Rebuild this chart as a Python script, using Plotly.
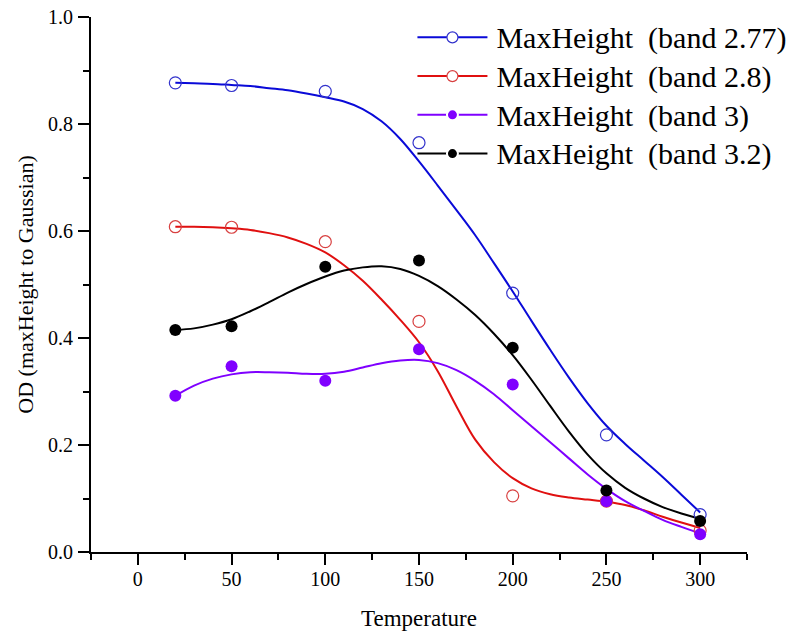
import plotly.graph_objects as go

# ---- data ----
temps = [20, 50, 100, 150, 200, 250, 300]
od_277 = [0.877, 0.872, 0.861, 0.765, 0.484, 0.219, 0.070]
od_28 = [0.608, 0.607, 0.580, 0.431, 0.105, 0.095, 0.040]
od_3 = [0.292, 0.347, 0.320, 0.379, 0.313, 0.095, 0.033]
od_32 = [0.415, 0.422, 0.533, 0.545, 0.382, 0.115, 0.058]

# fitted curves
fit_t = [20, 30, 40, 50, 60, 70, 80, 90, 100, 110, 120, 130, 140, 150, 160,
         170, 180, 190, 200, 210, 220, 230, 240, 250, 260, 270, 280, 290, 300]
fit_277 = [0.877, 0.876, 0.875, 0.873, 0.871, 0.867, 0.863, 0.857, 0.850, 0.842, 0.828, 0.805, 0.772, 0.730, 0.685,
           0.639, 0.592, 0.540, 0.487, 0.432, 0.378, 0.326, 0.278, 0.236, 0.202, 0.171, 0.140, 0.107, 0.074]
fit_28 = [0.608, 0.608, 0.607, 0.605, 0.602, 0.596, 0.588, 0.576, 0.560, 0.536, 0.507, 0.472, 0.434, 0.392, 0.338,
          0.272, 0.210, 0.168, 0.138, 0.119, 0.108, 0.102, 0.098, 0.094, 0.088, 0.078, 0.066, 0.055, 0.045]
fit_3 = [0.292, 0.311, 0.324, 0.332, 0.336, 0.336, 0.335, 0.333, 0.333, 0.337, 0.345, 0.353, 0.358, 0.359, 0.353,
         0.340, 0.320, 0.295, 0.265, 0.235, 0.205, 0.175, 0.145, 0.118, 0.095, 0.077, 0.060, 0.047, 0.035]
fit_32 = [0.415, 0.418, 0.425, 0.435, 0.450, 0.467, 0.485, 0.501, 0.515, 0.526, 0.532, 0.534, 0.529, 0.516, 0.497,
          0.472, 0.443, 0.408, 0.368, 0.322, 0.273, 0.225, 0.182, 0.147, 0.120, 0.100, 0.084, 0.072, 0.062]

labels = ["MaxHeight\u00a0\u00a0(band 2.77)", "MaxHeight\u00a0\u00a0(band 2.8)",
          "MaxHeight\u00a0\u00a0(band 3)", "MaxHeight\u00a0\u00a0(band 3.2)"]
x_ticks = [0, 50, 100, 150, 200, 250, 300]
y_ticks = [0.0, 0.2, 0.4, 0.6, 0.8, 1.0]

series = [
    dict(name=labels[0], pts=od_277, fy=fit_277, line="#0a0ad8", mk="circle-open", mc="#3333cc"),
    dict(name=labels[1], pts=od_28, fy=fit_28, line="#e01010", mk="circle-open", mc="#d84040"),
    dict(name=labels[2], pts=od_3, fy=fit_3, line="#7f00ff", mk="circle", mc="#8000ff"),
    dict(name=labels[3], pts=od_32, fy=fit_32, line="#000000", mk="circle", mc="#000000"),
]

fig = go.Figure()
for s in series:
    fig.add_trace(go.Scatter(x=fit_t, y=s["fy"], mode="lines", line=dict(color=s["line"], width=2, shape="spline"),
                             showlegend=False, hoverinfo="skip"))
for s in series:
    if s["mk"] == "circle-open":
        marker = dict(symbol="circle-open", size=12, color=s["mc"], line=dict(width=1.2, color=s["mc"]))
    else:
        marker = dict(symbol="circle", size=12, color=s["mc"], line=dict(width=0))
    fig.add_trace(go.Scatter(x=temps, y=s["pts"], mode="markers", marker=marker, showlegend=False))
for s in series:
    if s["mk"] == "circle-open":
        lm = dict(symbol="circle", size=11, color="white", line=dict(width=1.2, color=s["mc"]))
    else:
        lm = dict(symbol="circle", size=11, color=s["mc"], line=dict(width=2, color="white"))
    fig.add_trace(go.Scatter(x=[None], y=[None], mode="lines+markers",
                             name='<span style="font-size:16px">\u00a0</span><span style="font-size:30px">'
                                  + s["name"] + "</span>",
                             line=dict(color=s["line"], width=2), marker=lm))

font = "Liberation Serif, Times New Roman, serif"
# the page body adds an 8px offset, so the figure is 790x624 and fills the 798x632 window
fig.update_layout(
    width=790, height=624,
    margin=dict(l=83, r=51, t=9, b=80, autoexpand=False),
    paper_bgcolor="white", plot_bgcolor="white",
    font=dict(family=font, size=20, color="black"),
    legend=dict(x=0.49, y=1.0075, xanchor="left", yanchor="top", bgcolor="rgba(0,0,0,0)",
                font=dict(size=27.5, family=font), itemwidth=70, tracegroupgap=0),
    xaxis=dict(range=[-25, 325], tickvals=x_ticks, showgrid=False, zeroline=False, automargin=False,
               showline=True, linecolor="black", linewidth=2, ticks="outside", ticklen=11, tickwidth=2,
               ticklabelstandoff=-3, ticklabeloverflow="allow",
               tickcolor="black", minor=dict(dtick=25, tick0=0, ticks="outside", ticklen=6, tickwidth=2, tickcolor="black"),
               title=dict(text="Temperature", font=dict(size=23), standoff=21)),
    yaxis=dict(range=[0, 1.0], tickvals=y_ticks, tickformat=".1f", showgrid=False, zeroline=False, automargin=False,
               showline=True, linecolor="black", linewidth=2, ticks="outside", ticklen=11, tickwidth=2,
               ticklabelstandoff=1, ticklabeloverflow="allow",
               tickcolor="black", minor=dict(dtick=0.1, tick0=0, ticks="outside", ticklen=6, tickwidth=2, tickcolor="black"),
               title=dict(text="OD (maxHeight to Gaussian)", font=dict(size=22), standoff=8)),
)
fig.write_html("out.html")
